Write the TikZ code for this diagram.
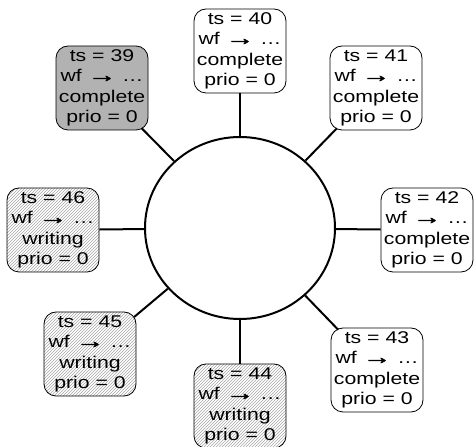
\documentclass[tikz,border=0pt]{standalone}
\usepackage{fontspec}
\usepackage{tikz}
\usetikzlibrary{shapes.geometric,patterns}
\newfontfamily\boxfont[FakeStretch=1.25]{Liberation Sans}
\newfontfamily\arrowfont[FakeStretch=1.25,FakeBold=2]{Liberation Sans}
\newcommand\wfarrow{\scalebox{1.35}[1.2]{\arrowfont →}}

\begin{document}
\begin{tikzpicture}[x=1pt,y=1pt,
        slot/.style={draw,line width=0.8pt,rounded corners=12pt,minimum width=92pt,
            minimum height=84pt,inner sep=0pt,align=center,
            font=\boxfont\fontsize{17}{20.5}\selectfont},
        donebox/.style={slot,fill=white},
        oldbox/.style={slot,fill=black!30},
        writebox/.style={slot,pattern=north east lines,pattern color=black!35},
        link/.style={line width=2pt},
        diag/.style={link,shorten >=-3pt}]
        \useasboundingbox (0,0) rectangle (474,447);
        % 圆
        \node [draw,ellipse,line width=2pt,minimum width=190pt,minimum height=182pt,inner sep=0pt] (ring) at(240,219) {};
        % 节点
        \node [donebox] (b40) at(240,396) {ts = 40\\wf \wfarrow{} …\\complete\\prio = 0};
        \node [donebox] (b41) at(376,359) {ts = 41\\wf \wfarrow{} …\\complete\\prio = 0};
        \node [donebox] (b42) at(427,217) {ts = 42\\wf \wfarrow{} …\\complete\\prio = 0};
        \node [donebox] (b43) at(377,77) {ts = 43\\wf \wfarrow{} …\\complete\\prio = 0};
        \node [writebox] (b44) at(240,41) {ts = 44\\wf \wfarrow{} …\\writing\\prio = 0};
        \node [writebox] (b45) at(90,93) {ts = 45\\wf \wfarrow{} …\\writing\\prio = 0};
        \node [writebox] (b46) at(53,217) {ts = 46\\wf \wfarrow{} …\\writing\\prio = 0};
        \node [oldbox] (b39) at(102,359) {ts = 39\\wf \wfarrow{} …\\complete\\prio = 0};
        % 连线
        \draw [link] (ring) -- (b40);
        \draw [diag] (ring) -- (b41);
        \draw [link] (ring) -- (b42);
        \draw [diag] (ring) -- (b43);
        \draw [link] (ring) -- (b44);
        \draw [diag] (ring) -- (b45);
        \draw [link] (ring) -- (b46);
        \draw [diag] (ring) -- (b39);
    \end{tikzpicture}
\end{document}
